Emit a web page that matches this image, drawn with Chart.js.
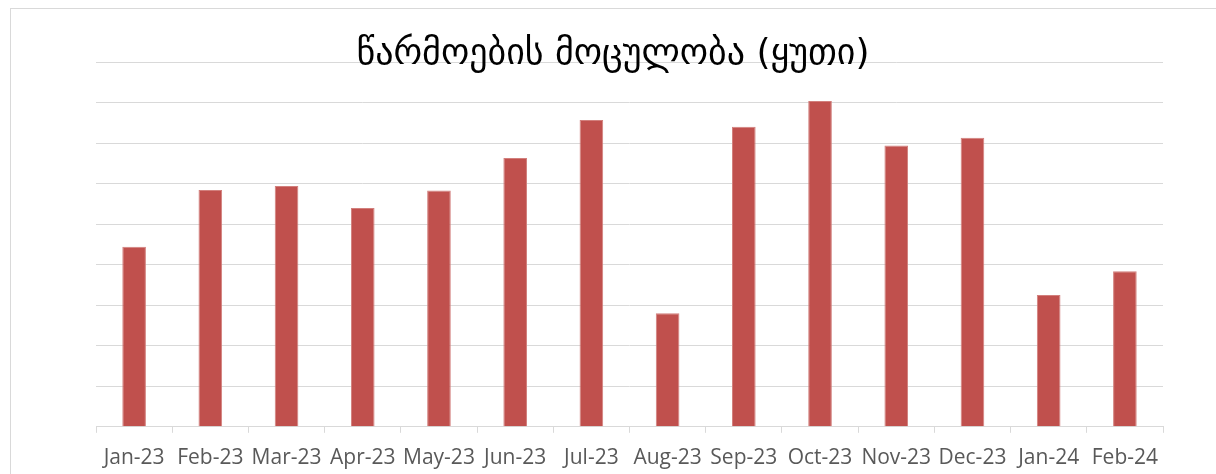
<!DOCTYPE html>
<html>
<head>
<meta charset="utf-8">
<script src="https://cdn.jsdelivr.net/npm/chart.js@4"></script>
<style>
  html, body { margin: 0; padding: 0; background: #fff; overflow: hidden; }
  #frame { position: absolute; left: 10px; top: 8px; width: 1400px; height: 700px; border-left: 1px solid #d9d9d9; border-top: 1px solid #d9d9d9; }
  #c { position: absolute; left: 0; top: 0; }
</style>
</head>
<body>
<div id="frame"></div>
<canvas id="c" width="1216" height="474"></canvas>
<script>
const chartTitle = 'წარმოების მოცულობა (ყუთი)';
const categories = ['Jan-23','Feb-23','Mar-23','Apr-23','May-23','Jun-23','Jul-23','Aug-23','Sep-23','Oct-23','Nov-23','Dec-23','Jan-24','Feb-24'];
const volumes = [4440, 5840, 5940, 5400, 5830, 6630, 7570, 2800, 7400, 8040, 6940, 7130, 3250, 3840];
const yMin = 0;
const yMax = 9000;
const yStep = 1000;

new Chart(document.getElementById('c'), {
  type: 'bar',
  data: {
    labels: categories,
    datasets: [{
      data: volumes,
      backgroundColor: '#C0504D',
      borderColor: '#D27F7C',
      borderWidth: 1,
      categoryPercentage: 1,
      barPercentage: 0.31
    }]
  },
  options: {
    responsive: false,
    animation: false,
    layout: { padding: { left: 63, right: 53, top: 0, bottom: -10 } },
    plugins: {
      legend: { display: false },
      tooltip: { enabled: false },
      title: {
        display: true,
        text: chartTitle,
        color: '#000000',
        font: { family: "'DejaVu Sans', 'Noto Sans'", size: 36, weight: 'normal', lineHeight: 0.25 },
        padding: { top: 50, bottom: 3 }
      }
    },
    scales: {
      x: {
        grid: { display: true, drawOnChartArea: false, drawTicks: true, tickLength: 6, color: '#d9d9d9', offset: true },
        border: { display: true, color: '#d9d9d9', width: 1 },
        ticks: { color: '#595959', font: { family: "'Open Sans', 'Noto Sans'", size: 21 }, padding: 13, maxRotation: 0, autoSkip: false }
      },
      y: {
        min: yMin,
        max: yMax,
        ticks: { display: false, stepSize: yStep },
        grid: { color: '#d9d9d9', drawTicks: false, lineWidth: 1 },
        border: { display: false },
        afterFit: (scale) => { scale.width = 33; }
      }
    }
  }
});
</script>
</body>
</html>
